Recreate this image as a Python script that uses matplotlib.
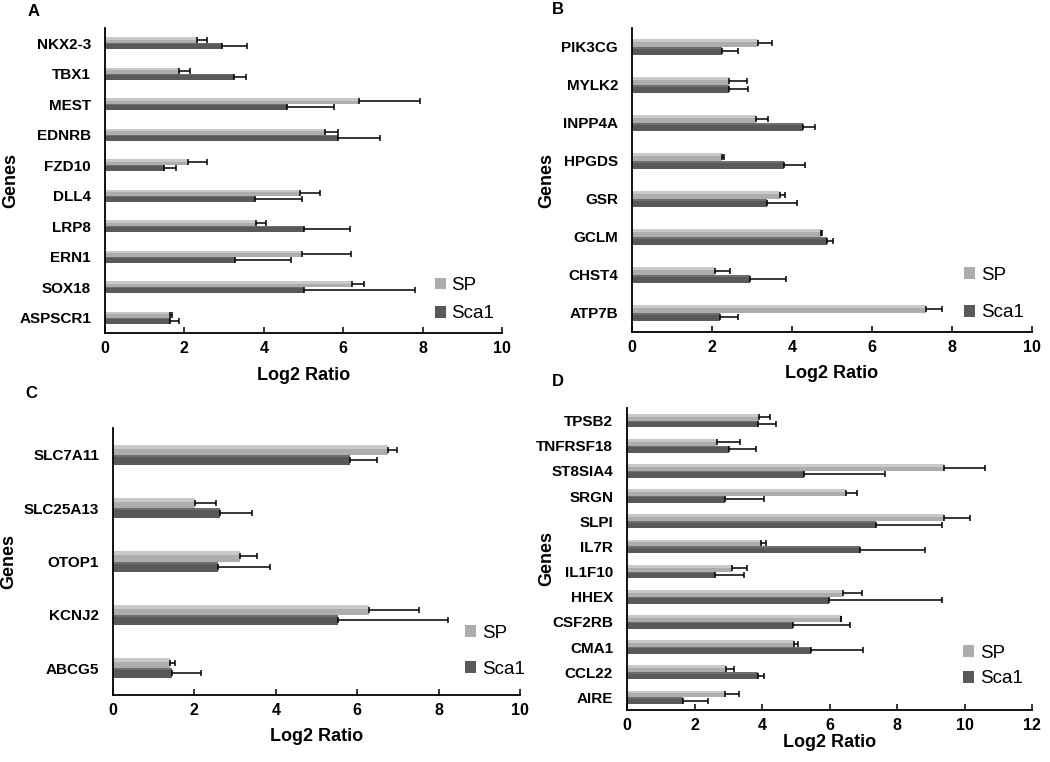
import matplotlib.pyplot as plt
import numpy as np

plt.rcParams['font.family'] = ['Liberation Sans', 'DejaVu Sans']

# panel A
genes_a = ['NKX2-3', 'TBX1', 'MEST', 'EDNRB', 'FZD10', 'DLL4', 'LRP8', 'ERN1', 'SOX18', 'ASPSCR1']
sp_a = [2.31, 1.87, 6.39, 5.55, 2.10, 4.90, 3.81, 4.96, 6.22, 1.64]
sp_a_err = [0.27, 0.27, 1.55, 0.31, 0.46, 0.52, 0.25, 1.24, 0.31, 0.04]
sca_a = [2.94, 3.24, 4.58, 5.86, 1.49, 3.78, 5.02, 3.28, 5.00, 1.64]
sca_a_err = [0.63, 0.31, 1.18, 1.07, 0.30, 1.18, 1.14, 1.40, 2.80, 0.23]

# panel B
genes_b = ['PIK3CG', 'MYLK2', 'INPP4A', 'HPGDS', 'GSR', 'GCLM', 'CHST4', 'ATP7B']
sp_b = [3.14, 2.43, 3.11, 2.24, 3.70, 4.72, 2.07, 7.35]
sp_b_err = [0.37, 0.45, 0.30, 0.07, 0.12, 0.04, 0.38, 0.41]
sca_b = [2.25, 2.43, 4.28, 3.81, 3.38, 4.88, 2.96, 2.21]
sca_b_err = [0.39, 0.48, 0.29, 0.51, 0.74, 0.15, 0.90, 0.44]

# panel C
genes_c = ['SLC7A11', 'SLC25A13', 'OTOP1', 'KCNJ2', 'ABCG5']
sp_c = [6.75, 2.01, 3.12, 6.30, 1.39]
sp_c_err = [0.22, 0.52, 0.41, 1.21, 0.14]
sca_c = [5.82, 2.64, 2.57, 5.54, 1.46]
sca_c_err = [0.66, 0.78, 1.29, 2.69, 0.70]

# panel D
genes_d = ['TPSB2', 'TNFRSF18', 'ST8SIA4', 'SRGN', 'SLPI', 'IL7R', 'IL1F10', 'HHEX',
           'CSF2RB', 'CMA1', 'CCL22', 'AIRE']
sp_d = [3.91, 2.68, 9.39, 6.50, 9.39, 3.98, 3.11, 6.40, 6.33, 4.94, 2.94, 2.91]
sp_d_err = [0.32, 0.68, 1.21, 0.32, 0.78, 0.13, 0.45, 0.56, 0.02, 0.13, 0.22, 0.40]
sca_d = [3.89, 3.02, 5.24, 2.91, 7.37, 6.91, 2.62, 5.98, 4.92, 5.46, 3.89, 1.66]
sca_d_err = [0.51, 0.81, 2.41, 1.15, 1.96, 1.91, 0.84, 3.35, 1.70, 1.53, 0.16, 0.74]

SP_COLOR = '#adadad'
SP_LIGHT = '#c9c9c9'
SCA_COLOR = '#595959'
SCA_LIGHT = '#6e6e6e'

W, H = 1050, 762
fig = plt.figure(figsize=(W / 100, H / 100), dpi=100)


def px_axes(left, right, top, bottom):
    return fig.add_axes([left / W, 1 - bottom / H, (right - left) / W, (bottom - top) / H])


def draw_panel(ax, genes, sp, sp_err, sca, sca_err, xmax, bar_h, ylab_x, xlab_y, leg_xy, leg_sp):
    y = np.arange(len(genes))
    err_kw = dict(ecolor='black', elinewidth=1.1, capsize=2.5, capthick=1.1, zorder=4)
    ax.barh(y - bar_h / 2, sp, bar_h, color=SP_COLOR, label='SP',
            xerr=[np.zeros(len(sp)), sp_err], error_kw=err_kw, zorder=2)
    ax.barh(y + bar_h / 2, sca, bar_h, color=SCA_COLOR, label='Sca1',
            xerr=[np.zeros(len(sca)), sca_err], error_kw=err_kw, zorder=2)
    # lighter band along the top of each bar (the original has a shaded look)
    ax.barh(y - bar_h + bar_h * 0.2, sp, bar_h * 0.4, color=SP_LIGHT, zorder=3)
    ax.barh(y + bar_h * 0.1, sca, bar_h * 0.2, color=SCA_LIGHT, zorder=3)
    ax.set_ylim(len(genes) - 0.5, -0.5)
    ax.set_xlim(0, xmax)
    ax.set_xticks(np.arange(0, xmax + 1, 2))
    ax.set_yticks(y)
    ax.set_yticklabels(genes, fontsize=11, fontweight='bold')
    for lab in ax.get_xticklabels():
        lab.set_fontweight('bold')
        lab.set_fontsize(11.5)
    ax.tick_params(axis='y', length=0, pad=10)
    ax.tick_params(axis='x', direction='in', length=4, width=1.1, pad=6)
    for s in ['top', 'right']:
        ax.spines[s].set_visible(False)
    for s in ['left', 'bottom']:
        ax.spines[s].set_linewidth(1.3)
        ax.spines[s].set_zorder(5)
    ax.set_xlabel('Log2 Ratio', fontsize=13, fontweight='bold')
    ax.set_ylabel('Genes', fontsize=13, fontweight='bold')
    ax.yaxis.set_label_coords(ylab_x, 0.5)
    ax.xaxis.set_label_coords(0.5, xlab_y)
    ax.legend(loc='lower left', bbox_to_anchor=leg_xy, frameon=False, fontsize=13.5,
              handlelength=0.6, handleheight=0.6, handletextpad=0.3,
              labelspacing=leg_sp, borderpad=0, borderaxespad=0)


ax_a = px_axes(105, 502, 28, 333)
draw_panel(ax_a, genes_a, sp_a, sp_a_err, sca_a, sca_a_err, 10, 0.2, -0.217, -0.11, (0.83, 0.035), 0.6)

ax_b = px_axes(632, 1032, 28, 332)
draw_panel(ax_b, genes_b, sp_b, sp_b_err, sca_b, sca_b_err, 10, 0.2, -0.193, -0.11, (0.83, 0.035), 1.1)

ax_c = px_axes(113, 520, 428, 695)
draw_panel(ax_c, genes_c, sp_c, sp_c_err, sca_c, sca_c_err, 10, 0.19, -0.236, -0.125, (0.865, 0.065), 1.0)

ax_d = px_axes(627, 1032, 408, 710)
draw_panel(ax_d, genes_d, sp_d, sp_d_err, sca_d, sca_d_err, 12, 0.27, -0.178, -0.08, (0.83, 0.075), 0.45)

fig.text(28 / W, 1 - 12 / H, 'A', fontsize=12, fontweight='bold', va='center')
fig.text(552 / W, 1 - 9 / H, 'B', fontsize=12, fontweight='bold', va='center')
fig.text(25 / W, 1 - 393 / H, 'C', fontsize=12, fontweight='bold', va='center')
fig.text(552 / W, 1 - 381 / H, 'D', fontsize=12, fontweight='bold', va='center')

fig.savefig('out.png', dpi=100)
